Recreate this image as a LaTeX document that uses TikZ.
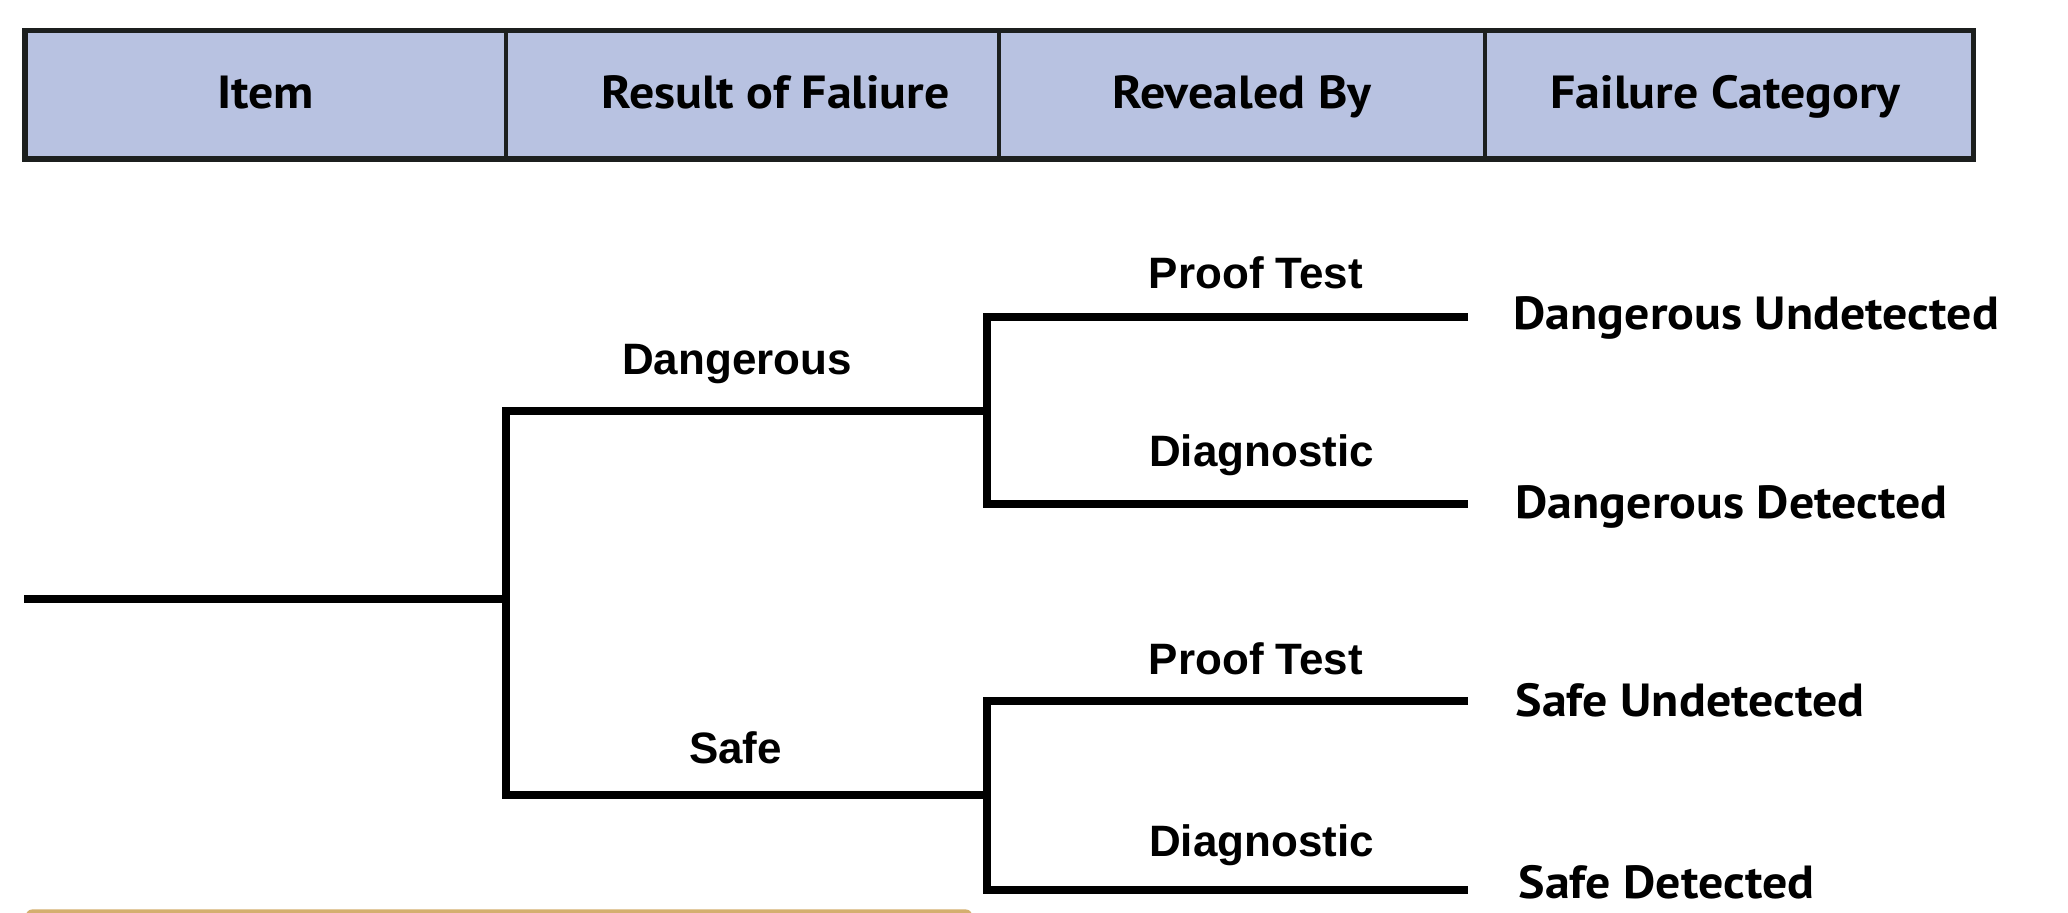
\documentclass[tikz,border=0pt]{standalone}
\usepackage{fontspec}
\newfontfamily\midfont{Liberation Sans}
\newfontfamily\catfont{PT Sans}[FakeStretch=1.075]
\definecolor{hdrfill}{HTML}{B8C2E1}
\definecolor{hdrline}{HTML}{1C1F1E}
\definecolor{goldbar}{HTML}{D4AF6F}
\begin{document}
\begin{tikzpicture}[x=0.01cm,y=-0.01cm,
  cell/.style={draw=hdrline,fill=hdrfill,line width=3.5*0.01cm,inner sep=0,outer sep=0,
    minimum height=128.5*0.01cm},
  hdrtext/.style={anchor=base,inner sep=0,font=\catfont\bfseries\fontsize{13.2}{15}\selectfont},
  midlab/.style={anchor=base,inner sep=0,font=\midfont\bfseries\fontsize{12.5}{15}\selectfont},
  catlab/.style={anchor=base west,inner sep=0,font=\catfont\bfseries\fontsize{13.2}{15}\selectfont},
  branch/.style={line width=8*0.01cm,line join=miter,draw=black}]
\useasboundingbox (0,0) rectangle (2068,913);
% header cells
\node[cell,minimum width=481*0.01cm,anchor=north west] (c1) at (25,30.5) {};
\node[cell,minimum width=493*0.01cm,anchor=north west] (c2) at (c1.north east) {};
\node[cell,minimum width=486*0.01cm,anchor=north west] (c3) at (c2.north east) {};
\node[cell,minimum width=488.5*0.01cm,anchor=north west] (c4) at (c3.north east) {};
\draw[hdrline,line width=5.5*0.01cm] (c1.north west) rectangle (c4.south east);
\node[hdrtext] (h1) at (265.5,108.3) {Item};
\node[hdrtext] (h2) at (775.5,108.3) {Result of Faliure};
\node[hdrtext] (h3) at (1242,108.3) {Revealed By};
\node[hdrtext] (h4) at (1725.5,108.3) {Failure Category};
% tree coordinates
\coordinate (r0) at (24,599);
\coordinate (j1) at (506,599);
\coordinate (d0) at (506,411.5);
\coordinate (d1) at (986.5,411.5);
\coordinate (s0) at (506,795);
\coordinate (s1) at (986.5,795);
\coordinate (dp0) at (986.5,317);
\coordinate (dp1) at (1468,317);
\coordinate (dd0) at (986.5,504);
\coordinate (dd1) at (1468,504);
\coordinate (sp0) at (986.5,701.5);
\coordinate (sp1) at (1468,701.5);
\coordinate (sd0) at (986.5,890);
\coordinate (sd1) at (1468,890);
\draw[branch] (r0) -- (j1);
\draw[branch] (d1) -- (d0) -- (s0) -- (s1);
\draw[branch] (dp1) -- (dp0) -- (dd0) -- (dd1);
\draw[branch] (sp1) -- (sp0) -- (sd0) -- (sd1);
% labels
\node[midlab] (ldang) at (737,375) {Dangerous};
\node[midlab] (lsafe) at (735.5,763.3) {Safe};
\node[midlab] (lpt1) at (1256,288.3) {Proof Test};
\node[midlab] (ldg1) at (1261.5,466.7) {Diagnostic};
\node[midlab] (lpt2) at (1256,675) {Proof Test};
\node[midlab] (ldg2) at (1261.5,856.7) {Diagnostic};
\node[catlab] (du) at (1513,329.3) {Dangerous Undetected};
\node[catlab] (dd) at (1515,518.3) {Dangerous Detected};
\node[catlab] (su) at (1515,716.7) {Safe Undetected};
\node[catlab] (sd) at (1518,898.3) {Safe Detected};
% gold bar peeking at bottom
\begin{scope}
\clip (0,0) rectangle (2068,913);
\fill[goldbar,rounded corners=6*0.01cm] (26,909.5) rectangle (972,950);
\end{scope}
\end{tikzpicture}
\end{document}
